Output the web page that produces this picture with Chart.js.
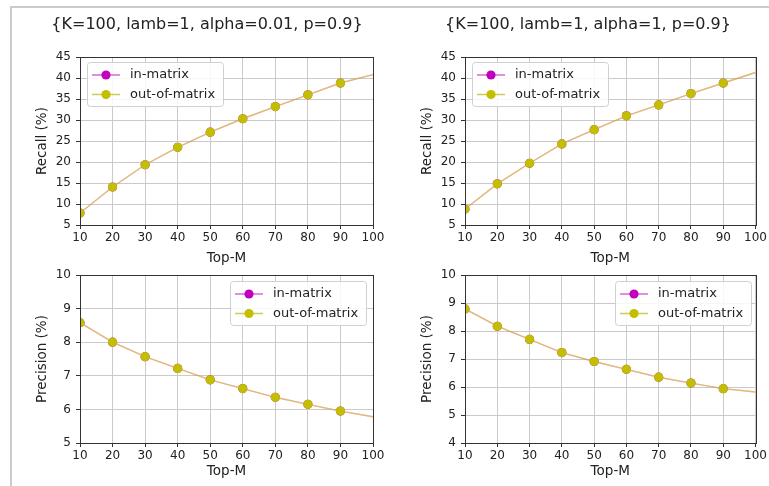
<!DOCTYPE html>
<html>
<head>
<meta charset="utf-8">
<script src="https://cdn.jsdelivr.net/npm/chart.js@4/dist/chart.umd.min.js"></script>
<style>
  html, body { margin: 0; padding: 0; background: #fff; }
  #page { position: relative; width: 769px; height: 486px; overflow: hidden; }
  #frame { position: absolute; left: 10px; top: 6px; width: 800px; height: 520px;
           border-left: 2px solid #cbcbcb; border-top: 2px solid #cbcbcb; }
  canvas { position: absolute; left: 0; top: 0; }
</style>
</head>
<body>
<div id="page">
  <div id="frame"></div>
  <canvas id="recall-a001" width="769" height="486"></canvas>
  <canvas id="recall-a1" width="769" height="486"></canvas>
  <canvas id="precision-a001" width="769" height="486"></canvas>
  <canvas id="precision-a1" width="769" height="486"></canvas>
</div>
<script>
// Valores (Top-M de 10 a 100). As duas séries coincidem
// (in-matrix fica exatamente por baixo de out-of-matrix), então usam o mesmo array.
const TOP_M = [10, 20, 30, 40, 50, 60, 70, 80, 90, 100];
const SERIES = ["in-matrix", "out-of-matrix"];
const TITLES = ["{K=100, lamb=1, alpha=0.01, p=0.9}", "{K=100, lamb=1, alpha=1, p=0.9}"];

const RECALL_A001 = [7.85, 14.05, 19.35, 23.5, 27.1, 30.3, 33.2, 36.0, 38.8, 40.8];
const RECALL_A1 = [8.8, 14.8, 19.7, 24.3, 27.7, 31.0, 33.6, 36.3, 38.8, 41.3];
const PRECISION_A001 = [8.58, 8.0, 7.57, 7.22, 6.88, 6.62, 6.36, 6.15, 5.95, 5.78];
const PRECISION_A1 = [8.79, 8.17, 7.7, 7.23, 6.91, 6.63, 6.35, 6.14, 5.94, 5.82];

const RECALL_TICKS = [5, 10, 15, 20, 25, 30, 35, 40, 45];
const PRECISION_TICKS_A001 = [5, 6, 7, 8, 9, 10];
const PRECISION_TICKS_A1 = [4, 5, 6, 7, 8, 9, 10];

// marcadores só de 10 a 90 (a linha continua até 100 sem marcador)
const MARKER_RADII = TOP_M.map((m) => (m === 100 ? 0 : 4.6));

const W = 769, H = 486;
const INK = "#222222";
const FONT = "'DejaVu Sans', sans-serif";
const GRID = "#cacaca";
const AXIS = "#333333";
const LABEL_SIZE = 13.5;

const STYLE = [
  { line: "rgba(204, 0, 204, 0.3)", marker: "#bf00bf", legendLine: "#d36cd3" },
  { line: "rgba(215, 190, 40, 0.62)", marker: "#c2bf00", legendLine: "#cfcb55" },
];

// caixa do gráfico (topo e direita) — o Chart.js só desenha as bordas dos eixos
const boxPlugin = {
  id: "box",
  afterDraw(chart) {
    const { ctx, chartArea: a } = chart;
    ctx.save();
    ctx.strokeStyle = AXIS;
    ctx.lineWidth = 1;
    ctx.strokeRect(Math.round(a.left) + 0.5, Math.round(a.top) + 0.5,
      Math.round(a.right - a.left), Math.round(a.bottom - a.top));
    ctx.restore();
  },
};

// legenda dentro da área do gráfico, no estilo matplotlib
const insideLegend = {
  id: "insideLegend",
  afterDraw(chart, args, opts) {
    const { ctx } = chart;
    const { x, y } = opts;
    const w = 136, h = 44, r = 3;
    ctx.save();
    ctx.beginPath();
    ctx.roundRect(x + 0.5, y + 0.5, w, h, r);
    ctx.fillStyle = "rgba(255,255,255,0.85)";
    ctx.fill();
    ctx.strokeStyle = "#d0d0d0";
    ctx.lineWidth = 1;
    ctx.stroke();
    chart.data.datasets.forEach((ds, i) => {
      const cy = y + 13 + i * 19.5;
      ctx.strokeStyle = STYLE[i].legendLine;
      ctx.lineWidth = 1.5;
      ctx.beginPath();
      ctx.moveTo(x + 5, cy);
      ctx.lineTo(x + 33, cy);
      ctx.stroke();
      ctx.fillStyle = STYLE[i].marker;
      ctx.beginPath();
      ctx.arc(x + 19, cy, 4.6, 0, Math.PI * 2);
      ctx.fill();
      ctx.fillStyle = INK;
      ctx.font = `13px ${FONT}`;
      ctx.textAlign = "left";
      ctx.textBaseline = "middle";
      ctx.fillText(ds.label, x + 43, cy);
    });
    ctx.restore();
  },
};

const panelTitle = {
  id: "panelTitle",
  afterDraw(chart, args, opts) {
    if (!opts.text) return;
    const { ctx } = chart;
    ctx.save();
    ctx.fillStyle = INK;
    ctx.font = `16px ${FONT}`;
    ctx.textAlign = "center";
    ctx.textBaseline = "middle";
    ctx.fillText(opts.text, opts.x, opts.y);
    ctx.restore();
  },
};

function makePanel(p) {
  const lh = LABEL_SIZE * 1.2;
  const axisLeft = p.yTitleX - lh / 2;
  const axisBottom = p.xTitleY + lh / 2;
  const datasets = SERIES.map((name, i) => ({
    label: name,
    data: TOP_M.map((m, k) => ({ x: m, y: p.values[k] })),
    borderColor: STYLE[i].line,
    borderWidth: 1.4,
    pointRadius: MARKER_RADII,
    pointBackgroundColor: STYLE[i].marker,
    pointBorderColor: STYLE[i].marker,
    pointBorderWidth: 0,
    tension: 0,
    order: i === 0 ? 1 : 0,
  }));
  const ticks = p.yTicks;
  new Chart(document.getElementById(p.id), {
    type: "line",
    data: { datasets },
    options: {
      responsive: false,
      animation: false,
      devicePixelRatio: 1,
      events: [],
      layout: {
        autoPadding: false,
        padding: { left: axisLeft, top: p.plot.top, right: W - p.plot.right, bottom: H - axisBottom },
      },
      plugins: {
        legend: { display: false },
        tooltip: { enabled: false },
        insideLegend: p.legend,
        panelTitle: p.title || {},
      },
      scales: {
        x: {
          type: "linear", min: 10, max: 100,
          ticks: { stepSize: 10, padding: 2, color: INK, font: { family: FONT, size: 12 } },
          grid: { color: GRID, lineWidth: 1, tickLength: 4, tickColor: AXIS },
          border: { color: AXIS, width: 1 },
          title: { display: true, text: "Top-M", color: INK, padding: 0, font: { family: FONT, size: LABEL_SIZE } },
          afterFit: (s) => { s.height = axisBottom - p.plot.bottom; },
        },
        y: {
          type: "linear", min: ticks[0], max: ticks[ticks.length - 1],
          ticks: { stepSize: ticks[1] - ticks[0], padding: 5, color: INK, font: { family: FONT, size: 12 } },
          grid: { color: GRID, lineWidth: 1, tickLength: 4, tickColor: AXIS },
          border: { color: AXIS, width: 1 },
          title: { display: true, text: p.yLabel, color: INK, padding: 0, font: { family: FONT, size: LABEL_SIZE } },
          afterFit: (s) => { s.width = p.plot.left - axisLeft; },
        },
      },
    },
    plugins: [boxPlugin, insideLegend, panelTitle],
  });
}

const PANELS = [
  { id: "recall-a001", values: RECALL_A001, yTicks: RECALL_TICKS, yLabel: "Recall (%)",
    plot: { left: 80, right: 373, top: 57, bottom: 225 }, yTitleX: 42, xTitleY: 258,
    legend: { x: 87, y: 62 }, title: { text: TITLES[0], x: 207, y: 25 } },
  { id: "recall-a1", values: RECALL_A1, yTicks: RECALL_TICKS, yLabel: "Recall (%)",
    plot: { left: 465, right: 758, top: 57, bottom: 225 }, yTitleX: 427, xTitleY: 258,
    legend: { x: 472, y: 62 }, title: { text: TITLES[1], x: 588, y: 25 } },
  { id: "precision-a001", values: PRECISION_A001, yTicks: PRECISION_TICKS_A001, yLabel: "Precision (%)",
    plot: { left: 80, right: 373, top: 275, bottom: 443 }, yTitleX: 42, xTitleY: 471.5,
    legend: { x: 230, y: 281 } },
  { id: "precision-a1", values: PRECISION_A1, yTicks: PRECISION_TICKS_A1, yLabel: "Precision (%)",
    plot: { left: 465, right: 758, top: 275, bottom: 443 }, yTitleX: 427, xTitleY: 471.5,
    legend: { x: 615, y: 281 } },
];

PANELS.forEach(makePanel);
</script>
</body>
</html>
